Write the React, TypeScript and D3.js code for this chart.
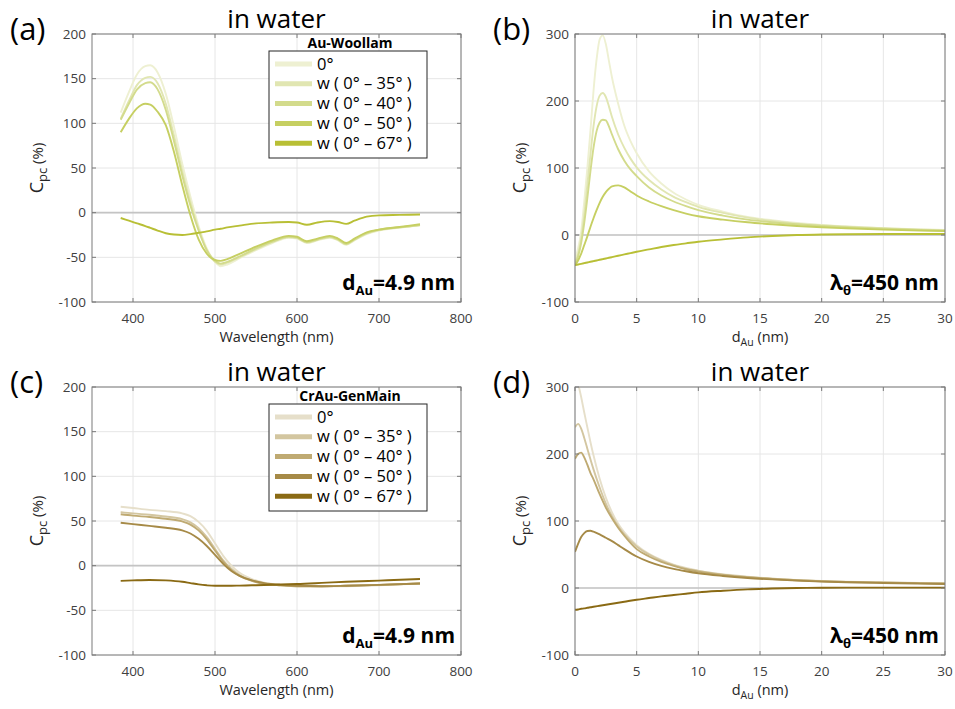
import React from 'react';
import * as d3 from 'd3';

// ---------- data ----------
const legendLabels = ['0°', 'w ( 0° – 35° )', 'w ( 0° – 40° )', 'w ( 0° – 50° )', 'w ( 0° – 67° )'];
const colorsAu = ['#eef0d2', '#e1e6b2', '#d3db8c', '#c6cf62', '#b8bf35'];
const colorsCr = ['#e6dfca', '#d3c6a0', '#bfaa72', '#a68a47', '#8a6a14'];

// (a) Au-Woollam vs wavelength
const wlA = [385, 395, 405, 415, 421, 430, 440, 450, 460, 470, 480, 490, 500, 507, 515, 530, 550, 570, 590, 600, 612, 625, 640, 650, 660, 670, 685, 700, 725, 750];
const a0 = [112, 135, 155, 164, 165, 157, 133, 96, 55, 18, -15, -40, -55, -60, -58, -51, -42, -34, -28, -29, -34, -31, -28, -31, -36, -31, -24, -20, -17, -14];
const a35 = [105, 125, 143, 151, 152, 145, 122, 86, 47, 12, -18, -42, -55, -58, -56, -50, -41, -33, -27.5, -28.5, -33.5, -30.5, -27.5, -30.5, -35.5, -30.5, -23.5, -19.5, -16.5, -14];
const a40 = [104, 122, 138, 145, 146, 138, 115, 80, 42, 8, -20, -42, -54, -57, -55, -49, -40, -32.5, -27, -28, -33, -30, -27, -30, -35, -30, -23, -19, -16.5, -14];
const a50 = [90, 105, 117, 122, 121, 113, 98, 68, 31, -3, -30, -46, -53, -54, -52, -46, -38, -31, -26, -27, -32, -29, -26, -29, -34, -29, -22, -19, -16, -13];
const a67 = [-6, -9, -12, -15, -17, -20, -23, -24.5, -25, -24, -22.5, -21, -19, -18, -16.5, -14.5, -12, -11, -10.5, -11, -13.5, -11, -9.5, -10.5, -12.5, -9, -4.5, -3, -2.5, -2];

// (b) Au-Woollam vs d_Au at 450 nm
const dB = [0, 0.25, 0.5, 0.75, 1, 1.25, 1.5, 1.75, 2, 2.25, 2.5, 2.75, 3, 3.5, 4, 4.5, 5, 6, 7, 8, 9, 10, 12, 14, 16, 18, 20, 22, 25, 28, 30];
const b0 = [-35, -20, 5, 50, 100, 155, 215, 262, 292, 298, 285, 260, 235, 196, 163, 140, 122, 95, 77, 63, 53, 45, 35, 27, 22, 18, 15, 13, 10, 8.5, 7.5];
const b35 = [-40, -28, -5, 30, 75, 120, 162, 192, 208, 212, 206, 192, 176, 150, 130, 114, 101, 82, 68, 57, 49, 42, 33, 26, 21, 17, 14.5, 12.5, 10, 8, 7];
const b40 = [-42, -32, -12, 18, 55, 95, 130, 155, 168, 172, 171, 162, 150, 128, 111, 98, 88, 71, 59, 50, 43, 37, 29, 23, 19, 16, 13.5, 11.5, 9.5, 7.5, 6.5];
const b50 = [-45, -38, -28, -15, -2, 12, 25, 37, 48, 57, 64, 69, 72.5, 74, 71, 65, 59, 50, 43, 37, 32, 28, 23, 19, 16, 13.5, 11.5, 10, 8, 6.5, 6];
const b67 = [-45, -44, -43, -42, -41, -40, -39, -38, -37, -36, -35, -34, -33, -31, -29, -27, -25, -21.5, -18, -15, -12.5, -10, -6.5, -3.5, -1.5, 0, 0.8, 1.2, 1.5, 1.5, 1.5];

// (c) CrAu-GenMain vs wavelength
const wlC = [385, 400, 420, 440, 460, 470, 480, 490, 500, 510, 520, 530, 545, 560, 580, 600, 630, 660, 700, 750];
const c0 = [66, 64.5, 62.5, 61, 58.5, 55.5, 49, 39, 25, 11, 0, -8, -15, -19, -21.5, -22.5, -23, -23, -22, -20];
const c35 = [60, 58.5, 57, 55, 52, 48.5, 42, 32, 19, 6, -3.5, -10.5, -16.5, -20, -22, -23, -23, -22.5, -21.5, -20];
const c40 = [57.5, 56, 54.5, 52.5, 49.5, 46, 39.5, 29.5, 17, 4.5, -5, -11.5, -17, -20.5, -22, -23, -23, -22.5, -21.5, -20];
const c50 = [48, 46.5, 44.5, 42.5, 39.5, 36, 30, 22, 12, 2, -6, -11.5, -16.5, -19.5, -21.5, -22.5, -23, -22.5, -21.5, -20];
const c67 = [-17, -16.5, -16, -16.5, -18, -19.5, -21, -22, -22.5, -22.5, -22.5, -22.3, -22, -21.7, -21, -20.5, -19.3, -18, -16.7, -15];

// (d) CrAu-GenMain vs d_Au at 450 nm
const dD = [0, 0.25, 0.5, 0.75, 1, 1.25, 1.5, 2, 2.5, 3, 3.5, 4, 5, 6, 7, 8, 9, 10, 12, 14, 16, 18, 20, 22, 25, 28, 30];
const d0 = [320, 305, 285, 262, 240, 218, 198, 163, 135, 113, 96, 83, 64, 51, 42, 35, 30, 26, 20.5, 17, 14, 12, 10.5, 9.5, 8.5, 7.5, 7];
const d35 = [240, 245, 238, 224, 208, 192, 177, 150, 126, 107, 92, 80, 62, 50, 41, 34, 29, 25.5, 20, 16.5, 13.8, 11.8, 10.3, 9.2, 8.2, 7.3, 6.8];
const d40 = [193, 200, 202, 195, 184, 172, 162, 140, 120, 104, 90, 78, 58, 47, 39, 33, 28, 24.5, 19.5, 16, 13.5, 11.5, 10, 9, 8, 7.2, 6.7];
const d50 = [54, 66, 76, 82, 85, 85.5, 84, 80, 75, 70, 64, 58, 47, 39, 33, 28.5, 25, 22, 18, 15, 12.8, 11, 9.5, 8.5, 7.5, 6.6, 6];
const d67 = [-32.5, -32, -31, -30.5, -29.5, -28.8, -28, -26.5, -25, -23.5, -22, -20.5, -17.5, -15, -12.5, -10.5, -8.5, -6.5, -4, -2, -0.8, 0, 0.3, 0.5, 0.6, 0.6, 0.6];

const wlTicks = [400, 500, 600, 700, 800];
const wlYTicks = [-100, -50, 0, 50, 100, 150, 200];
const dTicks = [0, 5, 10, 15, 20, 25, 30];
const dYTicks = [-100, 0, 100, 200, 300];

// ---------- drawing ----------
const FONT = '"Open Sans", "Noto Sans", "DejaVu Sans", sans-serif';
const TICK_COLOR = '#404040';
const AXIS_COLOR = '#7a7a7a';

type PanelProps = {
  id: string;
  left: number; top: number; right: number; bottom: number;
  xDomain: [number, number]; yDomain: [number, number];
  xTicks: number[]; yTicks: number[];
  xs: number[]; ysList: number[][]; colors: string[];
  letter: string;
  xLabel: React.ReactNode;
  annotation: React.ReactNode;
  legendTitle?: string;
};

function Panel(p: PanelProps) {
  const x = d3.scaleLinear().domain(p.xDomain).range([p.left, p.right]);
  const y = d3.scaleLinear().domain(p.yDomain).range([p.bottom, p.top]);
  const line = d3.line<number>()
    .x((_, i) => x(p.xs[i]))
    .y((v) => y(v))
    .curve(d3.curveMonotoneX);
  const cx = (p.left + p.right) / 2;
  const cy = (p.top + p.bottom) / 2;
  const tl = 4;
  return (
    <g>
      <defs>
        <clipPath id={p.id}>
          <rect x={p.left} y={p.top} width={p.right - p.left} height={p.bottom - p.top} />
        </clipPath>
      </defs>
      <rect x={p.left} y={p.top} width={p.right - p.left} height={p.bottom - p.top} fill="#fff" />
      {p.xTicks.map((t) => (
        <line key={'gx' + t} x1={x(t)} x2={x(t)} y1={p.top} y2={p.bottom} stroke="#e6e6e6" strokeWidth={1} />
      ))}
      {p.yTicks.map((t) => (
        <line key={'gy' + t} x1={p.left} x2={p.right} y1={y(t)} y2={y(t)} stroke="#e6e6e6" strokeWidth={1} />
      ))}
      <line x1={p.left} x2={p.right} y1={y(0)} y2={y(0)} stroke="#c4c4c4" strokeWidth={1.6} />
      <g clipPath={`url(#${p.id})`}>
        {p.ysList.map((ys, i) => (
          <path key={i} d={line(ys) || ''} fill="none" stroke={p.colors[i]} strokeWidth={1.9} strokeLinejoin="round" />
        ))}
      </g>
      <rect x={p.left} y={p.top} width={p.right - p.left} height={p.bottom - p.top} fill="none" stroke={AXIS_COLOR} strokeWidth={1} />
      {p.xTicks.map((t) => (
        <g key={'tx' + t}>
          <line x1={x(t)} x2={x(t)} y1={p.bottom} y2={p.bottom - tl} stroke={AXIS_COLOR} />
          <line x1={x(t)} x2={x(t)} y1={p.top} y2={p.top + tl} stroke={AXIS_COLOR} />
          <text x={x(t)} y={p.bottom + 21} textAnchor="middle" fontSize={13.5} fill={TICK_COLOR} fontFamily={FONT}>{t}</text>
        </g>
      ))}
      {p.yTicks.map((t) => (
        <g key={'ty' + t}>
          <line x1={p.left} x2={p.left + tl} y1={y(t)} y2={y(t)} stroke={AXIS_COLOR} />
          <line x1={p.right} x2={p.right - tl} y1={y(t)} y2={y(t)} stroke={AXIS_COLOR} />
          <text x={p.left - 6} y={y(t) + 4.5} textAnchor="end" fontSize={13.5} fill={TICK_COLOR} fontFamily={FONT}>{t}</text>
        </g>
      ))}
      <text x={cx} y={p.bottom + 40} textAnchor="middle" fontSize={14.5} fill="#262626" fontFamily={FONT}>{p.xLabel}</text>
      <text transform={`translate(${p.left - 49},${cy}) rotate(-90)`} textAnchor="middle" fill="#262626" fontFamily={FONT}>
        <tspan fontSize={18}>C</tspan>
        <tspan fontSize={13} dy={4}>pc</tspan>
        <tspan fontSize={15} dy={-4}> (%)</tspan>
      </text>
      <text x={cx} y={p.top - 6} textAnchor="middle" fontSize={26} fill="#000" fontFamily={FONT}>in water</text>
      <text x={p.left - 82} y={p.top + 6} fontSize={31} fill="#000" fontFamily={FONT}>{p.letter}</text>
      <text x={p.right - 6} y={p.bottom - 12} textAnchor="end" fontSize={21} fontWeight="bold" fill="#000" fontFamily={FONT}>{p.annotation}</text>
      {p.legendTitle && (
        <Legend left={p.left + 177} top={p.top + 17} title={p.legendTitle} colors={p.colors} />
      )}
    </g>
  );
}

function Legend({ left, top, title, colors }: { left: number; top: number; title: string; colors: string[] }) {
  const w = 158;
  const rowH = 19.8;
  const h = 107;
  return (
    <g>
      <text x={left + w / 2 + 2} y={top - 3} textAnchor="middle" fontSize={14} fontWeight="bold" fill="#000" fontFamily={FONT}>{title}</text>
      <rect x={left} y={top} width={w} height={h} fill="#fff" stroke="#262626" strokeWidth={1} />
      {legendLabels.map((lab, i) => {
        const yy = top + 13 + i * rowH;
        return (
          <g key={i}>
            <line x1={left + 6} x2={left + 43} y1={yy} y2={yy} stroke={colors[i]} strokeWidth={5} />
            <text x={left + 48} y={yy + 5.5} fontSize={16.5} fill="#000" fontFamily={FONT}>{lab}</text>
          </g>
        );
      })}
    </g>
  );
}

const dAnn = (
  <>
    <tspan>d</tspan>
    <tspan fontSize={13} dy={5}>Au</tspan>
    <tspan dy={-5}>=4.9 nm</tspan>
  </>
);
const lamAnn = (
  <>
    <tspan>λ</tspan>
    <tspan fontSize={13} dy={5}>θ</tspan>
    <tspan dy={-5}>=450 nm</tspan>
  </>
);
const wlLabel = <tspan>Wavelength  (nm)</tspan>;
const dLabel = (
  <>
    <tspan>d</tspan>
    <tspan fontSize={10.5} dy={4}>Au</tspan>
    <tspan dy={-4}> (nm)</tspan>
  </>
);

export default function App() {
  return (
    <svg width={955} height={709} style={{ position: 'absolute', left: 0, top: 0, background: '#fff' }}>
      <rect x={0} y={0} width={955} height={709} fill="#fff" />
      <Panel id="clipA" left={92} top={34} right={461} bottom={302} xDomain={[350, 800]} yDomain={[-100, 200]}
        xTicks={wlTicks} yTicks={wlYTicks} xs={wlA} ysList={[a0, a35, a40, a50, a67]} colors={colorsAu}
        letter="(a)" xLabel={wlLabel} annotation={dAnn} legendTitle="Au-Woollam" />
      <Panel id="clipB" left={575} top={34} right={945} bottom={302} xDomain={[0, 30]} yDomain={[-100, 300]}
        xTicks={dTicks} yTicks={dYTicks} xs={dB} ysList={[b0, b35, b40, b50, b67]} colors={colorsAu}
        letter="(b)" xLabel={dLabel} annotation={lamAnn} />
      <Panel id="clipC" left={92} top={387} right={461} bottom={655} xDomain={[350, 800]} yDomain={[-100, 200]}
        xTicks={wlTicks} yTicks={wlYTicks} xs={wlC} ysList={[c0, c35, c40, c50, c67]} colors={colorsCr}
        letter="(c)" xLabel={wlLabel} annotation={dAnn} legendTitle="CrAu-GenMain" />
      <Panel id="clipD" left={575} top={387} right={945} bottom={655} xDomain={[0, 30]} yDomain={[-100, 300]}
        xTicks={dTicks} yTicks={dYTicks} xs={dD} ysList={[d0, d35, d40, d50, d67]} colors={colorsCr}
        letter="(d)" xLabel={dLabel} annotation={lamAnn} />
    </svg>
  );
}
